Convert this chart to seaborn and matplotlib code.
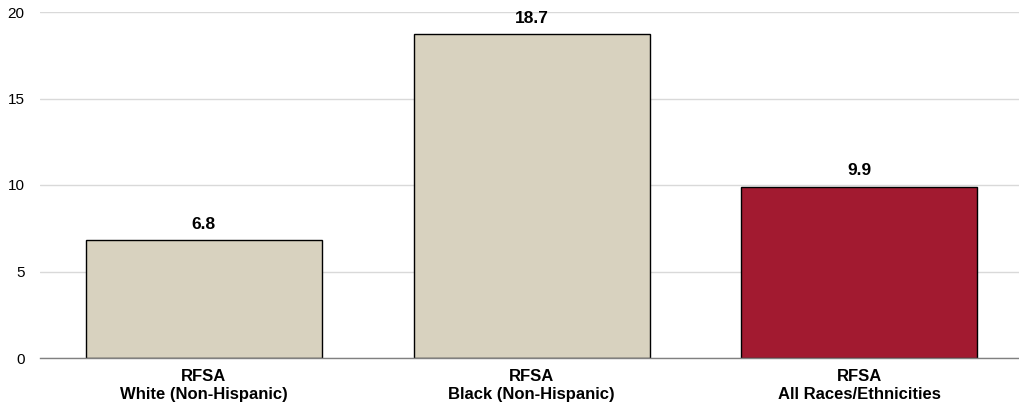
import matplotlib
matplotlib.use("Agg")
import matplotlib.pyplot as plt
import seaborn as sns
import pandas as pd

categories = ["RFSA\nWhite (Non-Hispanic)", "RFSA\nBlack (Non-Hispanic)", "RFSA\nAll Races/Ethnicities"]
values = [6.8, 18.7, 9.9]
colors = ["#D8D2BF", "#D8D2BF", "#A21A30"]
yticks = [0, 5, 10, 15, 20]

sns.set_theme(style="white")
plt.rcParams['font.family'] = ['Liberation Sans', 'DejaVu Sans']
plt.rcParams['text.color'] = 'black'
plt.rcParams['xtick.color'] = 'black'
plt.rcParams['ytick.color'] = 'black'

df = pd.DataFrame({"cat": categories, "val": values})
fig = plt.figure(figsize=(10.19, 4.17), dpi=100)
ax = fig.add_axes([40/1019, 1 - 358/417, 1 - 40/1019 + 0.004, (358 - 12)/417])
sns.barplot(data=df, x="cat", y="val", hue="cat", palette=colors, legend=False,
            width=0.72, edgecolor="black", linewidth=1.0, ax=ax, saturation=1)
ax.set_ylim(0, 20)
ax.set_xlim(-0.5, 2.5)
ax.set_yticks(yticks)
ax.set_yticklabels([str(t) for t in yticks], fontsize=11)
ax.grid(axis="y", color="#D9D9D9", linewidth=1)
ax.set_axisbelow(True)
for s in ["top", "right", "left"]:
    ax.spines[s].set_visible(False)
ax.spines["bottom"].set_color("#808080")
ax.spines["bottom"].set_linewidth(1)
ax.tick_params(axis="y", length=0, pad=11, labelcolor="black")
ax.tick_params(axis="x", length=0, pad=8, labelcolor="black")
ax.set_xlabel("")
ax.set_ylabel("")
for lab in ax.get_xticklabels():
    lab.set_fontweight("bold")
    lab.set_fontsize(12)
for i, v in enumerate(values):
    ax.text(i, v + 0.5, f"{v:.1f}", ha="center", va="bottom", fontsize=12.5,
            fontweight="bold", color="black")
fig.savefig("out.png", dpi=100)
